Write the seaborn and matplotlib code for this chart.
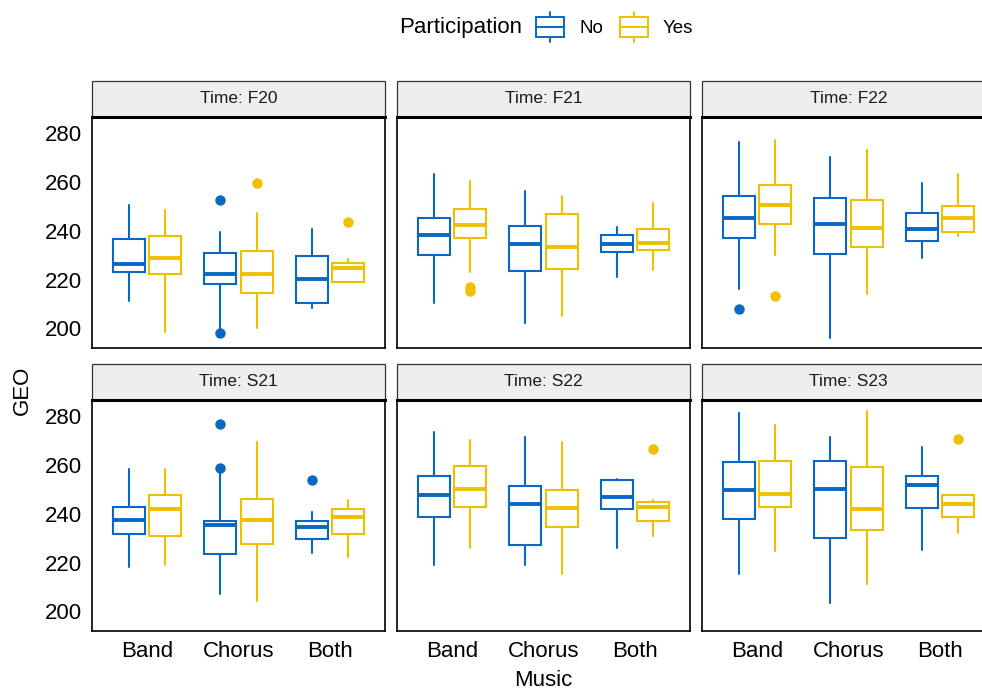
import numpy as np
import pandas as pd
import matplotlib
matplotlib.use("Agg")
import matplotlib.pyplot as plt
import seaborn as sns
from matplotlib.patches import Patch, Rectangle
from matplotlib.lines import Line2D
from matplotlib.legend_handler import HandlerBase

times = ["F20", "F21", "F22", "S21", "S22", "S23"]
music = ["Band", "Chorus", "Both"]
participation = ["No", "Yes"]
colors = {"No": "#0868C4", "Yes": "#EFC000"}

# box stats, order: time > music > participation
whislo = [211.2, 198.4, 199.5, 200.3, 208.4, 219.0,   # F20
          210.3, 223.0, 202.3, 205.1, 221.0, 224.0,   # F21
          216.2, 230.1, 196.2, 214.2, 228.8, 238.0,   # F22
          218.2, 219.1, 207.3, 204.2, 224.1, 222.2,   # S21
          219.2, 226.1, 219.2, 215.3, 226.1, 231.0,   # S22
          215.3, 224.9, 203.6, 211.2, 225.1, 232.0]   # S23
q1 = [223.0, 222.1, 218.0, 214.6, 210.6, 219.0,
      230.2, 236.8, 223.3, 224.2, 231.1, 232.2,
      237.2, 242.6, 230.6, 233.5, 235.6, 239.3,
      231.7, 231.0, 223.6, 227.5, 229.5, 231.7,
      238.7, 242.8, 227.1, 234.4, 242.1, 237.1,
      237.8, 242.9, 229.9, 233.2, 242.5, 238.7]
med = [226.4, 229.0, 222.1, 222.1, 220.2, 224.9,
       238.3, 242.2, 234.4, 233.5, 234.4, 234.9,
       245.3, 250.6, 242.6, 241.2, 240.8, 245.3,
       237.4, 241.8, 235.3, 237.4, 234.5, 238.5,
       247.6, 250.2, 244.1, 242.2, 246.7, 242.8,
       249.8, 248.2, 250.2, 241.8, 251.6, 244.0]
q3 = [236.4, 237.8, 231.0, 231.8, 229.5, 226.8,
      245.3, 248.7, 242.0, 246.9, 238.2, 240.8,
      254.2, 258.5, 253.5, 252.7, 247.4, 250.1,
      242.8, 247.8, 237.1, 246.0, 237.1, 241.8,
      255.5, 259.6, 251.4, 249.6, 253.9, 244.8,
      261.3, 261.6, 261.6, 258.9, 255.5, 247.5]
whishi = [250.4, 248.5, 239.3, 247.4, 240.6, 228.4,
          263.2, 260.3, 256.4, 254.3, 241.6, 251.4,
          276.1, 277.0, 270.1, 273.1, 259.3, 263.2,
          258.3, 258.3, 256.5, 269.2, 240.5, 245.5,
          273.4, 270.3, 271.4, 269.2, 254.3, 245.5,
          281.1, 276.2, 271.4, 282.2, 267.2, 247.5]
outliers = [[], [], [252.7, 198.2], [259.6], [], [243.7],
            [], [217.0, 215.2], [], [], [], [],
            [208.1], [213.1], [], [], [], [],
            [], [], [258.6, 276.5], [], [253.6], [],
            [], [], [], [], [], [266.5],
            [], [], [], [], [], [270.7]]

rows = []
i = 0
for t in times:
    for m in music:
        for p in participation:
            rows.append(dict(Time=t, Music=m, Participation=p,
                             whislo=whislo[i], q1=q1[i], med=med[i], q3=q3[i],
                             whishi=whishi[i], fliers=outliers[i]))
            i += 1
df = pd.DataFrame(rows)


def draw_boxes(data, **kws):
    ax = plt.gca()
    for _, r in data.iterrows():
        c = colors[r["Participation"]]
        pos = music.index(r["Music"]) + (-0.2 if r["Participation"] == "No" else 0.2)
        st = dict(whislo=r["whislo"], q1=r["q1"], med=r["med"], q3=r["q3"],
                  whishi=r["whishi"], fliers=np.array(r["fliers"]))
        ax.bxp([st], positions=[pos], widths=0.35, patch_artist=True,
               showcaps=False, showfliers=True,
               boxprops=dict(facecolor="white", edgecolor=c, linewidth=1.5),
               medianprops=dict(color=c, linewidth=2.8, solid_capstyle="butt"),
               whiskerprops=dict(color=c, linewidth=1.5),
               flierprops=dict(marker="o", markerfacecolor=c, markeredgecolor=c,
                               markersize=6.5))


class BoxKey(HandlerBase):
    def create_artists(self, legend, orig_handle, xdescent, ydescent,
                       width, height, fontsize, trans):
        c = orig_handle.get_edgecolor()
        x0, y0 = -xdescent, -ydescent
        xm = x0 + width / 2
        box = Rectangle((x0, y0 + 0.18 * height), width, 0.64 * height,
                        facecolor="white", edgecolor=c, lw=1.4, transform=trans)
        mid = Line2D([x0, x0 + width], [y0 + 0.5 * height] * 2, color=c, lw=1.4, transform=trans)
        w1 = Line2D([xm, xm], [y0, y0 + 0.18 * height], color=c, lw=1.4, transform=trans)
        w2 = Line2D([xm, xm], [y0 + 0.82 * height, y0 + height], color=c, lw=1.4, transform=trans)
        return [box, mid, w1, w2]


sns.set_theme(style="white")
plt.rcParams["font.family"] = ["Liberation Sans", "DejaVu Sans"]
plt.rcParams["text.color"] = "black"
plt.rcParams["axes.labelcolor"] = "black"

g = sns.FacetGrid(df, col="Time", col_wrap=3, col_order=times,
                  sharex=True, sharey=True, despine=False)
g.map_dataframe(draw_boxes)
g.set_titles("")
g.set_axis_labels("", "")

fig = g.figure
fig.set_size_inches(9.82, 6.89)
fig.subplots_adjust(left=92 / 982, right=995 / 982, bottom=1 - 631 / 689,
                    top=1 - 117 / 689, wspace=12 / 293, hspace=52 / 231)

strip_h = 36 / 230
for k, ax in enumerate(g.axes.flat):
    ax.set_xlim(-0.6, 2.6)
    ax.set_ylim(192, 286.5)
    ax.set_xticks(range(len(music)))
    ax.set_xticklabels(music)
    ax.set_yticks([200, 220, 240, 260, 280])
    for name, sp in ax.spines.items():
        sp.set_color("black")
        sp.set_linewidth(1.2)
    ax.spines["top"].set_linewidth(2.2)
    ax.tick_params(axis="both", direction="out", length=4.5, width=1.1,
                   color="black", labelsize=16, labelcolor="black", pad=3)
    if k % 3 != 0:
        ax.tick_params(axis="y", left=False, labelleft=False)
    if k < 3:
        ax.tick_params(axis="x", bottom=False, labelbottom=False)
    ax.add_patch(Rectangle((0, 1), 1, strip_h, transform=ax.transAxes, clip_on=False,
                           facecolor="#EEEEEE", edgecolor="#333333", lw=0.9, zorder=0))
    ax.text(0.5, 1 + strip_h / 2, f"Time: {times[k]}", transform=ax.transAxes,
            ha="center", va="center", fontsize=12.5, color="#1a1a1a")

fig.text(22 / 982, 1 - 390 / 689, "GEO", rotation=90, ha="center", va="center",
         fontsize=16, color="black")
fig.text(543 / 982, 1 - 680 / 689, "Music", ha="center", va="center",
         fontsize=16, color="black")
fig.text(522 / 982, 1 - 28 / 689, "Participation", ha="right", va="center",
         fontsize=16, color="black")

handles = [Patch(edgecolor=colors[p], facecolor="white") for p in participation]
fig.legend(handles, participation, handler_map={Patch: BoxKey()},
           loc="center left", bbox_to_anchor=(536 / 982, 1 - 27 / 689),
           ncol=2, frameon=False, fontsize=13.5, labelcolor="black",
           borderpad=0, borderaxespad=0,
           handlelength=1.5, handleheight=2.1, handletextpad=0.8, columnspacing=0.9)

fig.savefig("out.png", dpi=100)
